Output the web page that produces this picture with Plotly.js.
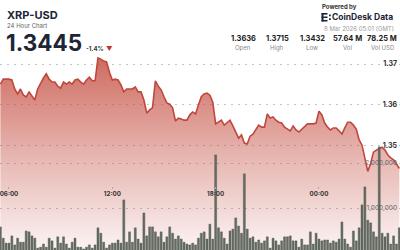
<!DOCTYPE html>
<html>
<head>
<meta charset="utf-8">
<script src="https://cdn.plot.ly/plotly-3.0.1.min.js"></script>
<style>html,body{margin:0;padding:0;background:#fff;}#chart{width:400px;height:250px;}</style>
</head>
<body>
<div id="chart"></div>
<script>
// ---- data (10-minute steps starting 2026-03-07 05:30 GMT) ----
const startTime = "2026-03-07 05:30";
const stepMinutes = 10;

const price = [
  1.3651,1.3663,1.3663,1.3663,1.3661,1.3639,1.3627,1.3639,1.3624,1.3620,
  1.3632,1.3622,1.3612,1.3639,1.3654,1.3666,1.3676,1.3663,1.3656,1.3656,
  1.3646,1.3641,1.3656,1.3651,1.3656,1.3651,1.3661,1.3663,1.3656,1.3651,
  1.3661,1.3668,1.3659,1.3659,1.3715,1.3712,1.3707,1.3705,1.3680,1.3661,
  1.3663,1.3661,1.3649,1.3632,1.3639,1.3639,1.3639,1.3644,1.3632,1.3632,
  1.3612,1.3580,1.3588,1.3593,1.3659,1.3646,1.3637,1.3620,1.3605,1.3602,
  1.3593,1.3561,1.3568,1.3566,1.3563,1.3563,1.3576,1.3583,1.3578,1.3600,
  1.3620,1.3627,1.3629,1.3624,1.3607,1.3554,1.3558,1.3563,1.3551,1.3558,
  1.3563,1.3549,1.3534,1.3519,1.3527,1.3507,1.3505,1.3524,1.3529,1.3539,
  1.3551,1.3546,1.3546,1.3578,1.3568,1.3571,1.3563,1.3558,1.3556,1.3546,
  1.3541,1.3537,1.3549,1.3539,1.3534,1.3541,1.3549,1.3554,1.3554,1.3554,
  1.3556,1.3585,1.3576,1.3556,1.3546,1.3539,1.3544,1.3544,1.3537,1.3529,
  1.3544,1.3558,1.3558,1.3551,1.3541,1.3515,1.3502,1.3468,1.3438,1.3458,
  1.3485,1.3490,1.3493,1.3497,1.3490,1.3478,1.3471,1.3466,1.3456,1.3445
];

const volume = [
  580000,330000,220000,220000,380000,180000,330000,240000,240000,490000,
  470000,380000,330000,110000,130000,200000,130000,330000,270000,110000,
  360000,220000,360000,200000,110000,240000,330000,130000,130000,90000,
  130000,180000,110000,180000,560000,440000,240000,110000,180000,220000,
  220000,290000,220000,1180000,240000,470000,240000,560000,310000,220000,
  890000,380000,580000,580000,470000,360000,470000,240000,360000,580000,
  440000,310000,380000,310000,240000,200000,180000,220000,180000,330000,
  440000,470000,310000,640000,310000,2180000,560000,470000,330000,200000,
  490000,530000,780000,600000,440000,1760000,530000,330000,360000,240000,
  290000,220000,270000,360000,110000,330000,270000,180000,270000,360000,
  360000,380000,270000,270000,130000,310000,180000,180000,470000,200000,
  440000,310000,270000,290000,290000,220000,270000,240000,310000,690000,
  310000,200000,130000,490000,270000,560000,1070000,1470000,730000,670000,
  470000,360000,2360000,440000,360000,440000,200000,380000,200000,560000
];

const priceTicks = [1.35, 1.36, 1.37];
const volumeTicks = [1000000, 2000000];
const volumeTickText = ["1,000,000", "2,000,000"];

const symbol = "XRP-USD";
const subtitle = "24 Hour Chart";
const lastPrice = "1.3445";
const change = "-1.4%";
const statValues = ["1.3636", "1.3715", "1.3432", "57.64 M", "78.25 M"];
const statLabels = ["Open", "High", "Low", "Vol", "Vol USD"];
const stamp = "8 Mar 2026 05:01 (GMT)";

// ---- build time axis ----
function fmt(d){
  const p = n => String(n).padStart(2,'0');
  return d.getUTCFullYear()+'-'+p(d.getUTCMonth()+1)+'-'+p(d.getUTCDate())+' '+p(d.getUTCHours())+':'+p(d.getUTCMinutes());
}
const t0 = Date.UTC(2026,2,7,5,30);
const times = price.map((_, i) => fmt(new Date(t0 + i*stepMinutes*60000)));

const F = "Inter, 'Open Sans', sans-serif";
const dark = '#1c2636';

const traces = [
  {
    type: 'scatter', mode: 'lines', x: times, y: price,
    line: {color: '#c0473b', width: 1.6},
    fill: 'tozeroy',
    fillgradient: {type: 'vertical', start: 1.325, stop: 1.3715,
      colorscale: [[0, 'rgba(195,75,62,0.07)'], [0.5, 'rgba(195,75,62,0.42)'], [1, 'rgba(195,75,62,0.82)']]},
    xaxis: 'x', yaxis: 'y', hoverinfo: 'skip'
  },
  {
    type: 'bar', x: times, y: volume,
    marker: {color: '#656d63', line: {color: '#4a5248', width: 0.4}},
    xaxis: 'x', yaxis: 'y2', hoverinfo: 'skip'
  }
];

const annotations = [];
function txt(text, x, y, size, color, opts){
  annotations.push(Object.assign({
    text: text, xref: 'paper', yref: 'paper', x: x/400, y: 1 - y/250,
    xanchor: 'left', yanchor: 'middle', showarrow: false, borderpad: 0,
    font: {family: F, size: size, color: color}
  }, opts || {}));
}
txt('<b>'+symbol+'</b>', 6, 15, 11, dark);
txt(subtitle, 6, 25.5, 6, '#666');
txt('<b>'+lastPrice+'</b>', 5, 42, 22.5, dark);
txt('<b>'+change+'</b>', 85, 49, 6, '#333');
txt('▼', 105, 49.5, 6.5, '#c0392b');
txt('<b>Powered by</b>', 321, 6, 6, '#333');
txt('<b>CoinDesk Data</b>', 331, 17, 8.5, dark);
txt(stamp, 395, 29, 6, '#9a9a9a', {xanchor: 'right'});
const centers = [243, 277, 312, 347, 382];
statValues.forEach((v, i) => txt('<b>'+v+'</b>', centers[i], 38.5, 7.5, '#222', {xanchor: 'center'}));
statLabels.forEach((v, i) => txt(v, centers[i], 48, 6, '#8a8a8a', {xanchor: 'center'}));

// logo glyph
const shapes = [];
function rect(x0,y0,x1,y1){
  shapes.push({type:'rect', xref:'paper', yref:'paper', x0:x0/400, x1:x1/400, y0:1-y1/250, y1:1-y0/250,
    fillcolor: dark, line:{width:0}});
}
rect(321.5,13,323.5,21.5); rect(321.5,13,327.5,14.6); rect(321.5,16.5,327.5,18); rect(321.5,19.9,327.5,21.5);
rect(329,14.5,330.8,16.2); rect(329,18.2,330.8,19.9);

const grid = {showgrid: true, gridcolor: '#c4c4c4', gridwidth: 1, griddash: '2px,5px', zeroline: false, showline: false};

const layout = {
  width: 400, height: 250,
  margin: {l: 0, r: 0, t: 0, b: 0, pad: 0},
  paper_bgcolor: '#fff', plot_bgcolor: '#fff',
  showlegend: false, bargap: 0.3,
  font: {family: F},
  xaxis: {
    type: 'date', range: ['2026-03-07 05:28:40', '2026-03-08 04:42:20'],
    anchor: 'free', position: 0.256,
    tick0: '2026-03-07 00:00', dtick: 6*3600*1000, tickformat: '%H:%M',
    ticks: 'outside', ticklen: 2, tickwidth: 1, tickcolor: '#aaa',
    ticklabeloverflow: 'allow',
    tickfont: {family: F, size: 6.2, color: '#333', weight: 'bold'},
    showgrid: false, zeroline: false, showline: false
  },
  yaxis: Object.assign({
    range: [1.32463, 1.38561], side: 'right',
    tickvals: priceTicks, ticktext: priceTicks.map(v => v.toFixed(2)),
    ticklabelposition: 'inside', ticks: '',
    tickfont: {family: F, size: 7, color: '#333', weight: 'bold'}
  }, grid),
  yaxis2: Object.assign({
    overlaying: 'y', side: 'right', range: [66700, 5622000],
    tickvals: volumeTicks, ticktext: volumeTickText,
    ticklabelposition: 'inside', ticks: '',
    tickfont: {family: F, size: 6.5, color: '#5e5e5e'}
  }, grid),
  annotations: annotations,
  shapes: shapes
};

Plotly.newPlot('chart', traces, layout, {staticPlot: true, displayModeBar: false});
</script>
</body>
</html>
